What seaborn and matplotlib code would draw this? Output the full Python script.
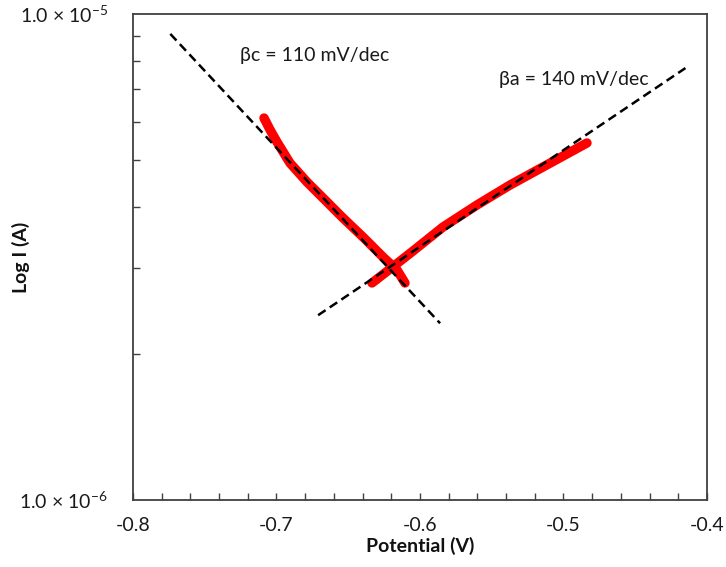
import matplotlib
matplotlib.use("Agg")
import matplotlib.pyplot as plt
import matplotlib.ticker as mticker
import seaborn as sns
import numpy as np

# Measured data (red Tafel curves)
cath_V = [-0.70871, -0.70452, -0.69965, -0.69059, -0.67875, -0.66481,
          -0.65366, -0.63972, -0.62578, -0.61603, -0.61045]
cath_I = [6.109e-6, 5.780e-6, 5.453e-6, 4.935e-6, 4.511e-6, 4.104e-6,
          3.804e-6, 3.476e-6, 3.162e-6, 2.974e-6, 2.796e-6]
anod_V = [-0.63345, -0.62091, -0.60488, -0.58397, -0.56028, -0.53728,
          -0.51429, -0.48362]
anod_I = [2.796e-6, 2.987e-6, 3.253e-6, 3.645e-6, 4.046e-6, 4.447e-6,
          4.844e-6, 5.428e-6]

# Tafel fit lines (dashed)
fit_c_V = [-0.774, -0.586]
fit_c_I = [9.1e-6, 2.31e-6]
fit_a_V = [-0.671, -0.415]
fit_a_I = [2.40e-6, 7.74e-6]

x_ticks = [-0.8, -0.7, -0.6, -0.5, -0.4]
x_tick_labels = ["-0.8", "-0.7", "-0.6", "-0.5", "-0.4"]
y_ticks = [1e-6, 1e-5]
y_tick_labels = ["1.0 \u00d7 10$^{-6}$", "1.0 \u00d7 10$^{-5}$"]

sns.set_style("ticks")
plt.rcParams["font.family"] = ["Lato", "DejaVu Sans"]
plt.rcParams["mathtext.fontset"] = "custom"
plt.rcParams["mathtext.rm"] = "Lato"
plt.rcParams["mathtext.it"] = "Lato:italic"
plt.rcParams["mathtext.bf"] = "Lato:bold"

fig = plt.figure(figsize=(7.26, 5.67), dpi=100)
ax = fig.add_axes([0.1832, 0.1182, 0.7906, 0.8571])

red = "#ff0000"
sns.lineplot(x=cath_V, y=cath_I, ax=ax, color=red, lw=6.8, sort=False,
             solid_capstyle="round", solid_joinstyle="round", estimator=None)
sns.lineplot(x=anod_V, y=anod_I, ax=ax, color=red, lw=6.8, sort=False,
             solid_capstyle="round", solid_joinstyle="round", estimator=None)
for xv, yv in [(fit_c_V, fit_c_I), (fit_a_V, fit_a_I)]:
    sns.lineplot(x=xv, y=yv, ax=ax, color="black", lw=1.8, estimator=None)
    ax.lines[-1].set_dashes([3.6, 2.0])

ax.set_yscale("log")
ax.set_xlim(-0.8, -0.4)
ax.set_ylim(1e-6, 1e-5)

ax.set_xticks(x_ticks)
ax.set_xticklabels(x_tick_labels)
ax.xaxis.set_minor_locator(mticker.MultipleLocator(0.02))
ax.set_yticks(y_ticks)
ax.set_yticklabels(y_tick_labels)
ax.yaxis.set_minor_locator(mticker.LogLocator(base=10, subs=np.arange(2, 10)))
ax.yaxis.set_minor_formatter(mticker.NullFormatter())

ax.tick_params(axis="x", which="both", direction="in", length=5, width=1,
               color="#404040", labelsize=14, pad=12, labelcolor="#1a1a1a")
ax.tick_params(axis="y", which="major", length=0, labelsize=14, pad=18,
               labelcolor="#1a1a1a")
ax.tick_params(axis="y", which="minor", direction="in", length=5, width=1,
               color="#404040")

for s in ax.spines.values():
    s.set_color("#404040")
    s.set_linewidth(1.3)

ax.set_xlabel("Potential (V)", fontsize=14, fontweight="bold", labelpad=2,
              color="#111111")
ax.set_ylabel("Log I (A)", fontsize=14, fontweight="bold", labelpad=2,
              color="#111111")
ax.yaxis.set_label_coords(-0.18, 0.5)

ax.text(-0.7254, 8.20e-6, "\u03b2c = 110 mV/dec", fontsize=14, color="#1a1a1a",
        va="center", ha="left")
ax.text(-0.545, 7.32e-6, "\u03b2a = 140 mV/dec", fontsize=14, color="#1a1a1a",
        va="center", ha="left")

fig.savefig("out.png", dpi=100)
